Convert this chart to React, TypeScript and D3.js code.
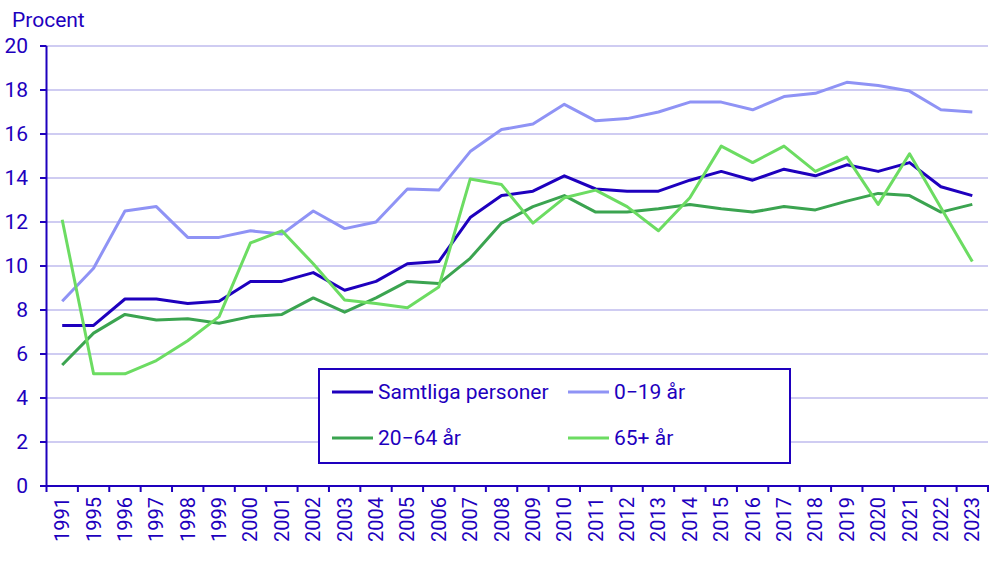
import React from "react";
import * as d3 from "d3";

const years = ["1991","1995","1996","1997","1998","1999","2000","2001","2002","2003","2004","2005","2006","2007","2008","2009","2010","2011","2012","2013","2014","2015","2016","2017","2018","2019","2020","2021","2022","2023"];
const samtliga = [7.3,7.3,8.5,8.5,8.3,8.4,9.3,9.3,9.7,8.9,9.3,10.1,10.2,12.2,13.2,13.4,14.1,13.5,13.4,13.4,13.9,14.3,13.9,14.4,14.1,14.6,14.3,14.7,13.6,13.2];
const age0_19 = [8.4,9.9,12.5,12.7,11.3,11.3,11.6,11.45,12.5,11.7,12.0,13.5,13.45,15.2,16.2,16.45,17.35,16.6,16.7,17.0,17.45,17.45,17.1,17.7,17.85,18.35,18.2,17.95,17.1,17.0];
const age20_64 = [5.5,6.95,7.8,7.55,7.6,7.4,7.7,7.8,8.55,7.9,8.55,9.3,9.2,10.35,11.95,12.7,13.2,12.45,12.45,12.6,12.8,12.6,12.45,12.7,12.55,12.95,13.3,13.2,12.45,12.8];
const age65 = [12.1,5.1,5.1,5.7,6.6,7.7,11.05,11.6,10.1,8.45,8.3,8.1,9.05,13.95,13.7,11.95,13.1,13.45,12.7,11.6,13.1,15.45,14.7,15.45,14.3,14.95,12.8,15.1,12.65,10.2];
const yTicks = [0,2,4,6,8,10,12,14,16,18,20];

const TEXT = "#1e00be";
const series = [
  { name: "Samtliga personer", values: samtliga, color: "#1e00be" },
  { name: "0\u221219 år", values: age0_19, color: "#8f93f5" },
  { name: "20\u221264 år", values: age20_64, color: "#3ba450" },
  { name: "65+ år", values: age65, color: "#6cdc62" },
];

export default function App() {
  const W = 1005, H = 564;
  const left = 46.5, right = 988, top = 46, bottom = 486;
  const x = d3.scaleBand<string>().domain(years).range([left, right]);
  const y = d3.scaleLinear().domain([0, 20]).range([bottom, top]);
  const cx = (i: number) => (x(years[i]) as number) + x.bandwidth() / 2;
  const line = d3.line<number>().x((_, i) => cx(i)).y((v) => y(v));
  const font = "Roboto, 'Noto Sans', sans-serif";
  const fs = 21;
  const legendItems = [
    { s: series[0], lx: 332, ly: 392 },
    { s: series[1], lx: 568, ly: 392 },
    { s: series[2], lx: 332, ly: 438 },
    { s: series[3], lx: 568, ly: 438 },
  ];
  return (
    <svg width={W} height={H} style={{ position: "absolute", left: 0, top: 0, background: "#fff" }} fontFamily={font}>
      <text x={12} y={27} fontSize={fs} fill={TEXT}>Procent</text>
      {yTicks.map((t) => (
        <g key={t}>
          {t > 0 && <line x1={left} x2={right} y1={y(t)} y2={y(t)} stroke="#cfccf2" strokeWidth={2} />}
          <line x1={40} x2={left} y1={y(t)} y2={y(t)} stroke={TEXT} strokeWidth={2} />
          <text x={28} y={y(t)} dy="0.35em" textAnchor="end" fontSize={fs} fill={TEXT}>{t}</text>
        </g>
      ))}
      {series.map((s) => (
        <path key={s.name} d={line(s.values) as string} fill="none" stroke={s.color} strokeWidth={3} strokeLinejoin="round" />
      ))}
      <line x1={left} x2={left} y1={top} y2={bottom + 1} stroke={TEXT} strokeWidth={2} />
      <line x1={left - 1} x2={right + 1} y1={bottom} y2={bottom} stroke={TEXT} strokeWidth={2} />
      {[...years.map((yr) => x(yr) as number), right].map((p, i) => (
        <line key={i} x1={p} x2={p} y1={bottom} y2={bottom + 6} stroke={TEXT} strokeWidth={2} />
      ))}
      {years.map((yr, i) => (
        <text key={yr} transform={`translate(${cx(i)},${497}) rotate(-90)`} textAnchor="end" dy="0.35em" fontSize={20} fill={TEXT}>{yr}</text>
      ))}
      <rect x={319} y={369} width={471} height={94} fill="#fff" stroke={TEXT} strokeWidth={2} />
      {legendItems.map(({ s, lx, ly }) => (
        <g key={s.name}>
          <line x1={lx} x2={lx + 41} y1={ly} y2={ly} stroke={s.color} strokeWidth={3} />
          <text x={lx + 46} y={ly} dy="0.35em" fontSize={fs} fill={TEXT}>{s.name}</text>
        </g>
      ))}
    </svg>
  );
}
